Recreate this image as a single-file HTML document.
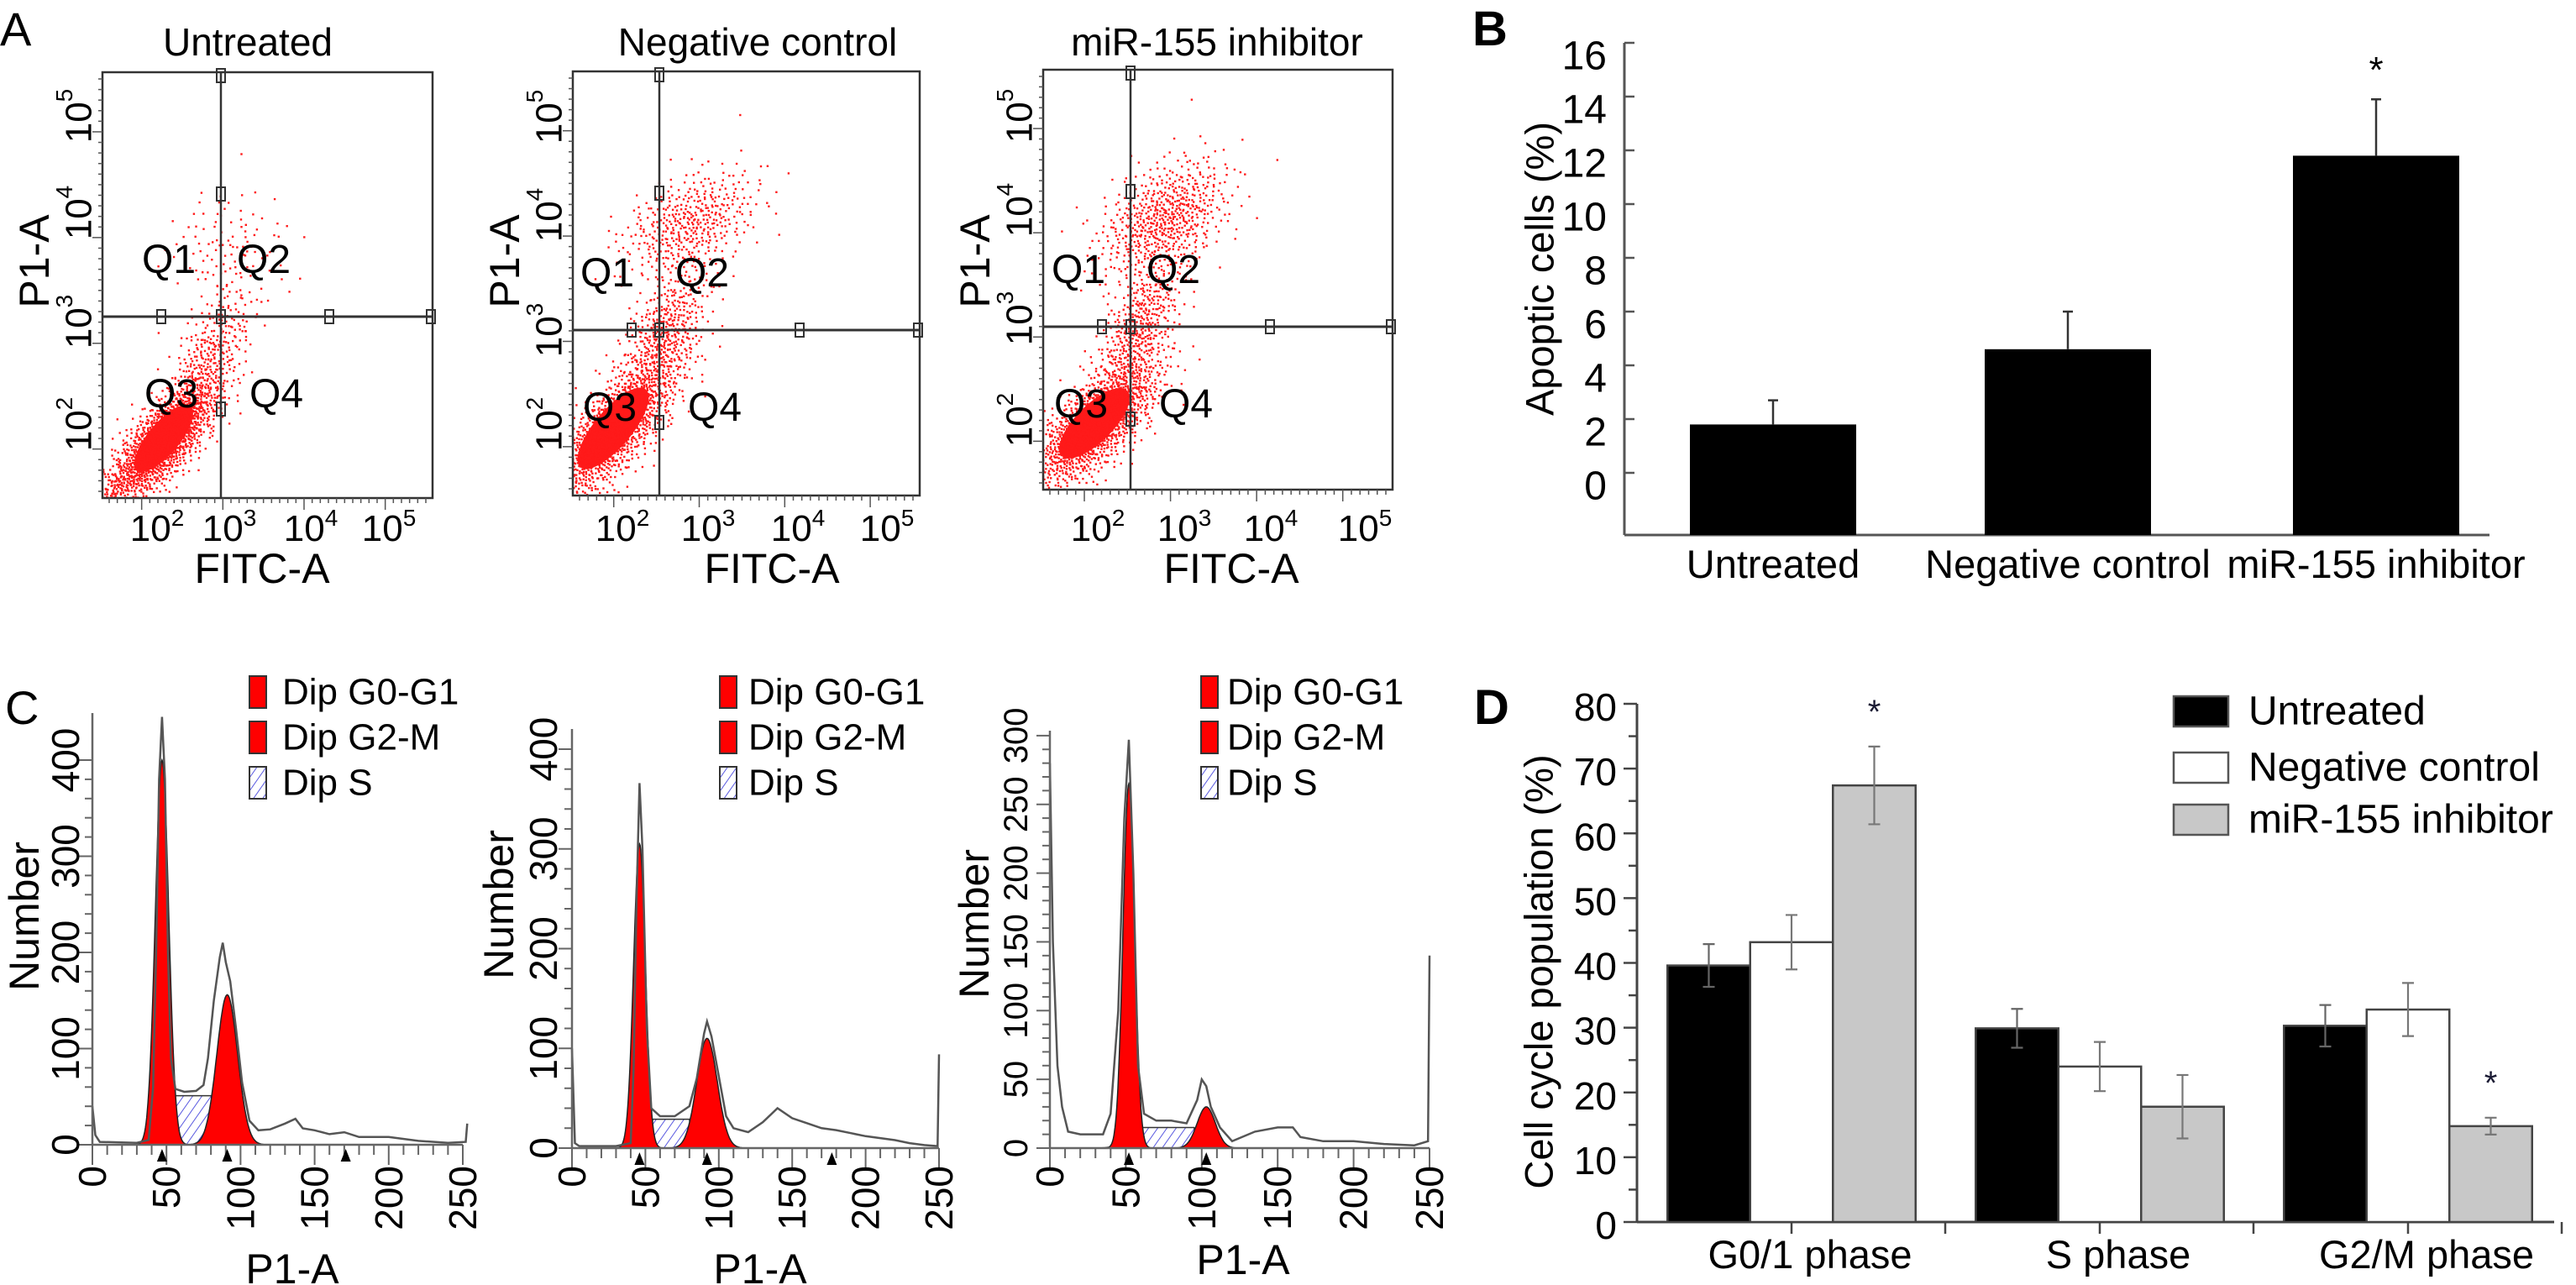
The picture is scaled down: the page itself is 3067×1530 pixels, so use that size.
<!DOCTYPE html>
<html><head><meta charset="utf-8"><title>miR-155 apoptosis and cell cycle figure</title>
<style>
html,body{margin:0;padding:0;background:#fff;}
svg{display:block;font-family:"Liberation Sans",Arial,sans-serif;}
</style></head>
<body>
<svg id="fig" xmlns="http://www.w3.org/2000/svg" width="3067" height="1530" viewBox="0 0 3067 1530">
<defs>
<pattern id="hatch" patternUnits="userSpaceOnUse" width="9" height="9" patternTransform="rotate(35)">
<rect width="9" height="9" fill="#ffffff"/><line x1="0" y1="0" x2="0" y2="9" stroke="#5a5ae0" stroke-width="2"/>
</pattern>
<clipPath id="clipA0"><rect x="122" y="86" width="393" height="507"/></clipPath>
<clipPath id="clipA1"><rect x="682" y="85" width="413" height="505"/></clipPath>
<clipPath id="clipA2"><rect x="1242" y="83" width="416" height="500"/></clipPath>
</defs>
<g id="layer"></g>
</svg>
<script>
// ---------- Panel B data ----------
const bCategories = ["Untreated", "Negative control", "miR-155 inhibitor"];
const bValues = [1.8, 4.6, 11.8];
const bErrors = [0.9, 1.4, 2.1];
const bTicks = [0, 2, 4, 6, 8, 10, 12, 14, 16];

// ---------- Panel D data ----------
const dCategories = ["G0/1 phase", "S phase", "G2/M phase"];
const dSeriesNames = ["Untreated", "Negative control", "miR-155 inhibitor"];
const dUntreated = [39.6, 29.9, 30.3];
const dNegative = [43.2, 24.0, 32.8];
const dInhibitor = [67.4, 17.8, 14.8];
const dErrUntreated = [3.3, 3.0, 3.2];
const dErrNegative = [4.2, 3.8, 4.1];
const dErrInhibitor = [6.0, 4.9, 1.3];
const dTicks = [0, 10, 20, 30, 40, 50, 60, 70, 80];
const dStars = [[0, 2], [2, 2]];

// ---------- Panel C data ----------
const cTitles = ["Untreated", "Negative control", "miR-155 inhibitor"];
const cXTicks = [0, 50, 100, 150, 200, 250];
const cYTicks0 = [0, 100, 200, 300, 400];
const cYTicks1 = [0, 100, 200, 300, 400];
const cYTicks2 = [0, 50, 100, 150, 200, 250, 300];
const cG1 = [[47, 4.5, 400], [46, 4, 305], [52, 3.8, 265]];
const cG2 = [[91, 7, 156], [92, 7, 110], [103, 6, 30]];
const cS = [[53, 82, 51], [55, 80, 29], [60, 95, 15]];
const cRaw0 = [[0,40],[2,10],[5,3],[30,2],[38,5],[41,60],[43,200],[45,380],[47,445],[49,380],[51,200],[53,90],[56,58],[62,55],[70,56],[75,62],[78,90],[82,150],[86,195],[88,210],[90,190],[93,170],[97,120],[101,65],[106,25],[112,15],[120,16],[130,22],[137,27],[142,17],[150,15],[160,11],[170,13],[180,8],[200,8],[220,4],[240,2],[252,3],[253,22]];
const cRaw1 = [[0,100],[2,5],[5,2],[30,2],[40,5],[42,80],[44,250],[46,366],[48,300],[51,120],[54,40],[60,32],[70,32],[80,42],[85,70],[90,115],[92,127],[95,112],[100,72],[105,32],[110,20],[120,16],[130,26],[140,40],[150,30],[160,25],[170,20],[180,18],[190,15],[200,12],[210,10],[220,8],[230,5],[240,3],[249,2],[250,94]];
const cRaw2 = [[0,280],[2,150],[5,60],[8,30],[12,12],[20,10],[35,10],[40,25],[45,100],[49,240],[52,297],[55,200],[58,60],[62,25],[70,20],[80,20],[90,18],[97,35],[100,50],[103,45],[106,30],[112,15],[120,5],[135,12],[150,15],[160,15],[165,8],[180,5],[200,5],[220,3],[240,2],[249,5],[250,140]];
const cMarkers = [[47, 91, 171], [46, 92, 177], [52, 103]];

// ---------- Panel A data (cluster estimates) ----------
const aTitles = ["Untreated", "Negative control", "miR-155 inhibitor"];
const aDecades = ["2", "3", "4", "5"];
// each cluster: [centerX(px from box left), centerY(px from box top), sdMajor, sdMinor, angleDeg, count]
const aClusters0 = [[73,436,45,17,-50,1500],[128,334,40,18,-62,260],[150,215,35,40,0,120],[18,490,25,10,-40,120]];
const aClusters1 = [[48,425,55,20,-50,1300],[108,312,45,20,-65,420],[138,180,45,26,-30,420]];
const aClusters2 = [[61,421,50,20,-45,1400],[113,307,45,18,-65,420],[143,177,45,28,-40,620]];

const NS = "http://www.w3.org/2000/svg";
const root = document.getElementById("layer");
function el(tag, attrs, parent) {
  const e = document.createElementNS(NS, tag);
  for (const k in attrs) e.setAttribute(k, attrs[k]);
  (parent || root).appendChild(e);
  return e;
}
function txt(str, attrs, parent) {
  const e = el("text", attrs, parent);
  e.textContent = str;
  return e;
}

// ================= Panel labels =================
let t;
t = txt("A", {x: 0, y: 54, "font-size": 56});


t = txt("B", {x: 1753, y: 54, "font-size": 58, "font-weight": "bold"});


t = txt("C", {x: 6, y: 862, "font-size": 56});


t = txt("D", {x: 1755, y: 862, "font-size": 58, "font-weight": "bold"});



// ================= Panel A =================
const aBoxes = [
  {l:122, r:515, t:86, b:593, vx:263, hy:377, tx:295, xl:[187,273,370,463], yl:[138,253,383,505]},
  {l:682, r:1095, t:85, b:590, vx:785, hy:393, tx:902, xl:[741,843,950,1056], yl:[139,256,393,505]},
  {l:1242, r:1658, t:83, b:583, vx:1346, hy:389, tx:1449, xl:[1307,1410,1513,1625], yl:[138,250,379,500]}
];
const aClusterSets = [aClusters0, aClusters1, aClusters2];
function halton(i, b) { let f = 1, r = 0; while (i > 0) { f /= b; r += f * (i % b); i = Math.floor(i / b); } return r; }

aBoxes.forEach((B, p) => {
  const g = el("g", {});
  
  
  const title = txt(aTitles[p], {x: B.tx, y: 66, "font-size": 46, "text-anchor": "middle"}, g);
  
  
  const sg = el("g", {"clip-path": "url(#clipA" + p + ")", fill: "#ff1a1a"}, g);
  
  
  let idx = 1;
  aClusterSets[p].forEach(c => {
    const cx = B.l + c[0], cy = B.t + c[1], a = c[4] * Math.PI / 180;
    if (c[5] > 1000) {
      const core = el("ellipse", {cx: cx, cy: cy, rx: c[2] * 1.1, ry: c[3] * 1.1, transform: "rotate(" + c[4] + " " + cx + " " + cy + ")", fill: "#ff0000", opacity: 0.9}, sg);
      
      
    }
    for (let k = 0; k < c[5]; k++, idx++) {
      const u1 = Math.max(1e-4, halton(idx, 2)), u2 = halton(idx, 3);
      const rr = Math.sqrt(-2 * Math.log(u1));
      const gx = rr * Math.cos(2 * Math.PI * u2) * c[2], gy = rr * Math.sin(2 * Math.PI * u2) * c[3];
      const x = cx + gx * Math.cos(a) - gy * Math.sin(a);
      const y = cy + gx * Math.sin(a) + gy * Math.cos(a);
      el("rect", {x: x.toFixed(1), y: y.toFixed(1), width: 2.4, height: 2.4}, sg);
    }
  });
  const box = el("rect", {x: B.l, y: B.t, width: B.r - B.l, height: B.b - B.t, fill: "none", stroke: "#333", "stroke-width": 2.5}, g);
  
  
  const vl = el("line", {x1: B.vx, y1: B.t, x2: B.vx, y2: B.b, stroke: "#333", "stroke-width": 2.5}, g);
  
  
  const hl = el("line", {x1: B.l, y1: B.hy, x2: B.r, y2: B.hy, stroke: "#333", "stroke-width": 3}, g);
  
  
  [[B.vx, B.t + 4], [B.vx, B.t + 145], [B.vx, B.hy], [B.vx, B.hy + 110], [B.l + 70, B.hy], [B.l + 270, B.hy], [B.r - 2, B.hy]].forEach(h => {
    const hr = el("rect", {x: h[0] - 5, y: h[1] - 8, width: 10, height: 16, fill: "none", stroke: "#333", "stroke-width": 2}, g);
    
    
  });
  for (let k = 0; k < 40; k++) {
    const x = B.l + 8 + k * (B.r - B.l - 16) / 39;
    el("line", {x1: x, y1: B.b, x2: x, y2: B.b + (k % 10 === 4 ? 14 : 6), stroke: "#555", "stroke-width": 1.5}, g);
    const y = B.t + 8 + k * (B.b - B.t - 16) / 39;
    el("line", {x1: B.l, y1: y, x2: B.l - (k % 10 === 5 ? 12 : 5), y2: y, stroke: "#555", "stroke-width": 1.5}, g);
  }
  const qpos = [[B.vx - 62, B.hy - 52], [B.vx + 51, B.hy - 52], [B.vx - 59, B.hy + 108], [B.vx + 66, B.hy + 108]];
  ["Q1", "Q2", "Q3", "Q4"].forEach((q, i) => {
    const ql = txt(q, {x: qpos[i][0], y: qpos[i][1], "font-size": 48, "text-anchor": "middle"}, g);
    
    
  });
  aDecades.forEach((d, i) => {
    const xl = el("text", {x: B.xl[i], y: 644, "font-size": 44, "text-anchor": "middle"}, g);
    
    
    xl.appendChild(document.createTextNode("10"));
    const sup = el("tspan", {"font-size": 28, dy: -18}, xl);
    sup.textContent = d;
  });
  const ydec = ["5", "4", "3", "2"];
  ydec.forEach((d, i) => {
    const x = B.l - 28, y = B.yl[i];
    const yl = el("text", {x: x, y: y, "font-size": 44, "text-anchor": "middle", "dominant-baseline": "central", transform: "rotate(-90 " + x + " " + y + ")"}, g);
    
    
    yl.appendChild(document.createTextNode("10"));
    const sup = el("tspan", {"font-size": 28, dy: -18}, yl);
    sup.textContent = d;
  });
  const xt = txt("FITC-A", {x: B.tx + 17, y: 694, "font-size": 50, "text-anchor": "middle"}, g);
  
  
  const yx = B.l - 81, yy = 311;
  const yt = txt("P1-A", {x: yx, y: yy, "font-size": 50, "text-anchor": "middle", "dominant-baseline": "central", transform: "rotate(-90 " + yx + " " + yy + ")"}, g);
  
  
});

// ================= Panel B =================
(function () {
  const g = el("g", {});
  
  
  const ax = 1934, y0 = 563, ppu = 32, xEnd = 2964, axBottom = 637;
  const yS = v => y0 - v * ppu;
  const centers = [2111, 2462, 2829];
  const bw = 198;
  const yaxis = el("line", {x1: ax, y1: yS(16), x2: ax, y2: axBottom, stroke: "#555", "stroke-width": 3}, g);
  
  
  const xaxis = el("line", {x1: ax, y1: axBottom, x2: xEnd, y2: axBottom, stroke: "#555", "stroke-width": 3}, g);
  
  
  bTicks.forEach(v => {
    el("line", {x1: ax, y1: yS(v), x2: ax + 12, y2: yS(v), stroke: "#555", "stroke-width": 2.5}, g);
    const tl = txt(String(v), {x: 1913, y: yS(v) + 16, "font-size": 48, "text-anchor": "end", "dominant-baseline": "central"}, g);
    
    
  });
  bCategories.forEach((c, i) => {
    const bar = el("rect", {x: centers[i] - bw / 2, y: yS(bValues[i]), width: bw, height: axBottom - yS(bValues[i]), fill: "#000"}, g);
    
    
    const eb = el("path", {d: "M" + centers[i] + " " + yS(bValues[i]) + "V" + yS(bValues[i] + bErrors[i]) + "M" + (centers[i] - 6) + " " + yS(bValues[i] + bErrors[i]) + "H" + (centers[i] + 6), stroke: "#333", "stroke-width": 2.5, fill: "none"}, g);
    
    
    const cl = txt(c, {x: centers[i], y: 688, "font-size": 47, "text-anchor": "middle"}, g);
    
    
  });
  const st = txt("*", {x: centers[2], y: 98, "font-size": 44, "text-anchor": "middle"}, g);
  
  
  const yt = txt("Apoptic cells (%)", {x: 1833, y: 320, "font-size": 47, "text-anchor": "middle", "dominant-baseline": "central", transform: "rotate(-90 1833 320)"}, g);
  
  
})();

// ================= Panel C =================
const cPlots = [
  {ox:110, base:1363, xs:441/250, ys:114.5/100, top:849, yt:cYTicks0, raw:cRaw0, lx:297, ltx:336, num:[29,1091], ytl:78, lab:1431, p1:[348,1528], yf:46},
  {ox:681, base:1367, xs:437/250, ys:118.75/100, top:868, yt:cYTicks1, raw:cRaw1, lx:857, ltx:891, num:[594,1077], ytl:647, lab:1431, p1:[905,1528], yf:46},
  {ox:1250, base:1367, xs:452/250, ys:163.7/100, top:870, yt:cYTicks2, raw:cRaw2, lx:1430, ltx:1461, num:[1160,1100], ytl:1210, lab:1421, p1:[1480,1517], yf:40}
];
function gaussPts(mu, sd, h, P) {
  const pts = [];
  for (let k = -40; k <= 40; k++) {
    const x = mu + k * sd / 10;
    const v = h * Math.exp(-0.5 * (k / 10) * (k / 10));
    pts.push((P.ox + x * P.xs).toFixed(1) + "," + (P.base - v * P.ys).toFixed(1));
  }
  return pts.join(" ");
}
cPlots.forEach((P, p) => {
  const g = el("g", {});
  
  
  const xS = v => P.ox + v * P.xs, yS = v => P.base - v * P.ys;
  const s = cS[p];
  // S fit curve (underneath)
  const ov = el("polygon", {points: gaussPts((s[0] + s[1]) / 2, (s[1] - s[0]) / 2.2, s[2], P), fill: "#c0001a", stroke: "#333", "stroke-width": 1}, g);
  
  
  const sp = el("polygon", {points: [xS(s[0] - 2) + "," + yS(0), xS(s[0]) + "," + yS(s[2]), xS(s[1]) + "," + yS(s[2]), xS(s[1] + 2) + "," + yS(0)].join(" "), fill: "url(#hatch)", stroke: "#333", "stroke-width": 1.5}, g);
  
  
  const g1 = cG1[p], g2 = cG2[p];
  const p1 = el("polygon", {points: gaussPts(g1[0], g1[1], g1[2], P), fill: "#ff0000", stroke: "#222", "stroke-width": 1.5}, g);
  
  
  const p2 = el("polygon", {points: gaussPts(g2[0], g2[1], g2[2], P), fill: "#ff0000", stroke: "#222", "stroke-width": 1.5}, g);
  
  
  const rawPts = P.raw.map(d => xS(d[0]).toFixed(1) + "," + yS(d[1]).toFixed(1)).join(" ");
  const rl = el("polyline", {points: rawPts, fill: "none", stroke: "#555", "stroke-width": 2.5}, g);
  
  
  const ya = el("line", {x1: P.ox, y1: P.top, x2: P.ox, y2: P.base, stroke: "#666", "stroke-width": 2.5}, g);
  
  
  const xa = el("line", {x1: P.ox, y1: P.base, x2: xS(250), y2: P.base, stroke: "#666", "stroke-width": 2.5}, g);
  
  
  for (let v = 0; v <= 250; v += 10) {
    el("line", {x1: xS(v), y1: P.base, x2: xS(v), y2: P.base + (v % 50 === 0 ? 24 : 12), stroke: "#666", "stroke-width": 2}, g);
  }
  const ymax = P.yt[P.yt.length - 1], ystep = P.yt[1] - P.yt[0];
  for (let v = 0; v <= ymax; v += ystep / 5) {
    el("line", {x1: P.ox, y1: yS(v), x2: P.ox - (Math.abs(v % ystep) < 1e-6 ? 16 : 9), y2: yS(v), stroke: "#666", "stroke-width": 2}, g);
  }
  P.yt.forEach(v => {
    const tl = txt(String(v), {x: P.ytl, y: yS(v), "font-size": P.yf, "text-anchor": "middle", "dominant-baseline": "central", transform: "rotate(-90 " + P.ytl + " " + yS(v) + ")"}, g);
    
    
  });
  cXTicks.forEach(v => {
    const ty = 1388;
    const tl = txt(String(v), {x: xS(v), y: ty, "font-size": 46, "text-anchor": "end", "dominant-baseline": "central", transform: "rotate(-90 " + xS(v) + " " + ty + ")"}, g);
    
    
  });
  cMarkers[p].forEach(m => {
    const mk = el("polygon", {points: (xS(m) - 6) + "," + (P.base + 20) + " " + (xS(m) + 6) + "," + (P.base + 20) + " " + xS(m) + "," + (P.base + 5), fill: "#000"}, g);
    
    
  });
  const xt = txt("P1-A", {x: P.p1[0], y: P.p1[1], "font-size": 50, "text-anchor": "middle"}, g);
  
  
  const yt = txt("Number", {x: P.num[0], y: P.num[1], "font-size": 50, "text-anchor": "middle", "dominant-baseline": "central", transform: "rotate(-90 " + P.num[0] + " " + P.num[1] + ")"}, g);
  
  
  const lg = el("g", {}, g);
  
  
  const lnames = ["Dip G0-G1", "Dip G2-M", "Dip S"];
  const lys = [824, 878, 932];
  lnames.forEach((n, i) => {
    const sw = el("rect", {x: P.lx, y: lys[i] - 19, width: 20, height: 38, fill: i === 2 ? "url(#hatch)" : "#ff0000", stroke: "#333", "stroke-width": 2}, lg);
    
    
    const lt = txt(n, {x: P.ltx, y: lys[i], "font-size": 44, "dominant-baseline": "central"}, lg);
    
    
  });
});

// ================= Panel D =================
(function () {
  const g = el("g", {});
  
  
  const ax = 1949, y0 = 1455, ppu = 7.7125, xEnd = 3041;
  const yS = v => y0 - v * ppu;
  const gc = i => 2133 + i * 367;
  const bw = 98.5;
  const series = [dUntreated, dNegative, dInhibitor];
  const errs = [dErrUntreated, dErrNegative, dErrInhibitor];
  const fills = ["#000000", "#ffffff", "#c8c8c8"];
  const yaxis = el("line", {x1: ax, y1: yS(80), x2: ax, y2: y0, stroke: "#444", "stroke-width": 3}, g);
  
  
  const xaxis = el("line", {x1: ax, y1: y0, x2: xEnd, y2: y0, stroke: "#444", "stroke-width": 3}, g);
  
  
  for (let v = 0; v <= 80; v += 5) {
    el("line", {x1: ax, y1: yS(v), x2: ax - (v % 10 === 0 ? 16 : 10), y2: yS(v), stroke: "#444", "stroke-width": 2.5}, g);
  }
  dTicks.forEach(v => {
    const tl = txt(String(v), {x: 1925, y: yS(v) + 4, "font-size": 46, "text-anchor": "end", "dominant-baseline": "central"}, g);
    
    
  });
  for (let i = 0; i < 3; i++) {
    el("line", {x1: gc(i), y1: y0, x2: gc(i), y2: y0 + 14, stroke: "#444", "stroke-width": 2.5}, g);
    el("line", {x1: gc(i) + 183, y1: y0, x2: gc(i) + 183, y2: y0 + 14, stroke: "#444", "stroke-width": 2.5}, g);
  }
  dCategories.forEach((c, i) => {
    series.forEach((s, j) => {
      const x = gc(i) + (j - 1.5) * bw;
      const bar = el("rect", {x: x, y: yS(s[i]), width: bw, height: y0 - yS(s[i]), fill: fills[j], stroke: "#444", "stroke-width": 2.5}, g);
      
      
      const cx = x + bw / 2, e = errs[j][i];
      const eb = el("path", {d: "M" + cx + " " + yS(s[i] - e) + "V" + yS(s[i] + e) + "M" + (cx - 7) + " " + yS(s[i] + e) + "H" + (cx + 7) + "M" + (cx - 7) + " " + yS(s[i] - e) + "H" + (cx + 7), stroke: j === 0 ? "#666" : "#777", "stroke-width": 2.2, fill: "none"}, g);
      
      
    });
    const cl = txt(c, {x: gc(i) + 22, y: 1510, "font-size": 47, "text-anchor": "middle"}, g);
    
    
  });
  dStars.forEach(sj => {
    const i = sj[0], j = sj[1];
    const cx = gc(i) + (j - 1) * bw;
    const st = txt("*", {x: cx, y: yS(series[j][i] + errs[j][i]) - 28, "font-size": 40, "text-anchor": "middle", fill: "#1a1a33"}, g);
    
    
  });
  const yt = txt("Cell cycle population (%)", {x: 1832, y: 1157, "font-size": 47, "text-anchor": "middle", "dominant-baseline": "central", transform: "rotate(-90 1832 1157)"}, g);
  
  
  const lg = el("g", {}, g);
  
  
  const lys = [847, 914, 976];
  dSeriesNames.forEach((n, j) => {
    const sw = el("rect", {x: 2588, y: lys[j] - 18, width: 65, height: 36, fill: fills[j], stroke: "#555", "stroke-width": 2.5}, lg);
    
    
    const lt = txt(n, {x: 2677, y: lys[j], "font-size": 48, "dominant-baseline": "central"}, lg);
    
    
  });
})();
</script>
</body></html>
